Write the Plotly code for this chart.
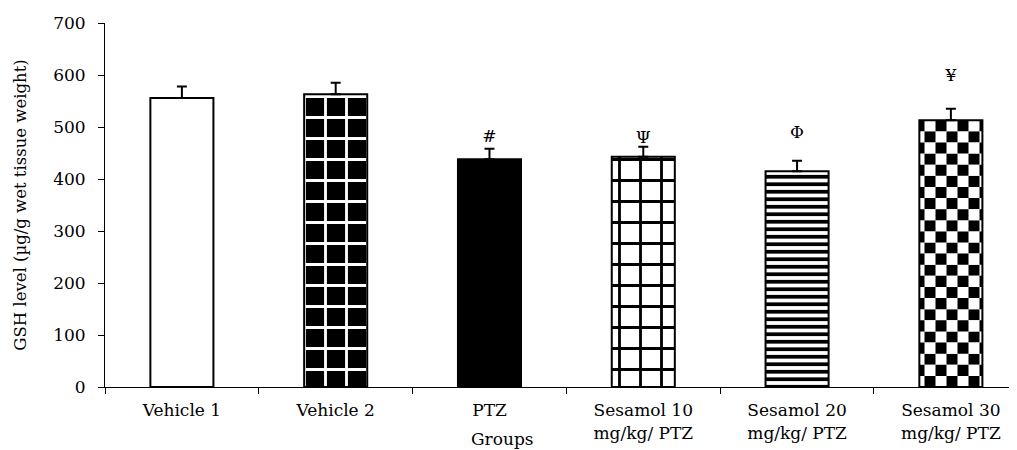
import plotly.graph_objects as go

# ---- data ----
groups = ["Vehicle 1", "Vehicle 2", "PTZ",
          "Sesamol 10<br>mg/kg/ PTZ", "Sesamol 20<br>mg/kg/ PTZ", "Sesamol 30<br>mg/kg/ PTZ"]
gsh = [556, 563, 438, 443, 415, 513]
gsh_err = [22, 22, 20, 19, 20, 22]
sig_labels = ["", "", "#", "Ψ", "Φ", "¥"]
sig_y = [None, None, 480, 478, 487, 596]
y_ticks = [0, 100, 200, 300, 400, 500, 600, 700]

# ---- styles ----
FONT = "DejaVu Serif"
BAR_W = 0.41
fill = ["white", "black", "black", "white", "white", "rgba(0,0,0,0)"]
pat_shape = ["", "+", "", "+", "-", ""]
pat_fg = ["black", "white", "black", "black", "black", "black"]
pat_size = [8, 21, 8, 21, 7.5, 8]
pat_sol = [0.3, 0.25, 0.3, 0.25, 0.5, 0.3]
CHECKER_GROUP = 5
CHECKER_ROWS = 24  # number of checker squares stacked in the last bar

fig = go.Figure()

# checkerboard fill for the last group: rows with alternating stripe phase
row_h = gsh[CHECKER_GROUP] / CHECKER_ROWS
for phase, (bg, fg) in enumerate([("white", "black"), ("black", "white")]):
    rows = [r for r in range(CHECKER_ROWS) if r % 2 == phase]
    fig.add_trace(go.Bar(
        x=[groups[CHECKER_GROUP]] * len(rows),
        y=[row_h] * len(rows),
        base=[r * row_h for r in rows],
        width=BAR_W,
        marker=dict(
            color=bg, line=dict(width=0),
            pattern=dict(shape="|", size=22, solidity=0.5,
                         bgcolor=bg, fgcolor=fg, fillmode="replace"),
        ),
        hoverinfo="skip", showlegend=False,
    ))

# main bars, one trace per group
for i, g in enumerate(groups):
    pattern = dict(shape=pat_shape[i], bgcolor=fill[i], fgcolor=pat_fg[i],
                   size=pat_size[i], solidity=pat_sol[i], fillmode="replace")
    fig.add_trace(go.Bar(
        x=[g], y=[gsh[i]], width=BAR_W,
        marker=dict(color=fill[i], line=dict(color="black", width=2),
                    pattern=pattern if pat_shape[i] else None),
        error_y=dict(type="data", array=[gsh_err[i]], arrayminus=[0],
                     symmetric=False, color="black", thickness=2, width=5),
        showlegend=False,
    ))

# significance symbols
fig.add_trace(go.Scatter(
    x=groups, y=sig_y, text=sig_labels, mode="text",
    textfont=dict(family=FONT, size=17, color="black"),
    hoverinfo="skip", showlegend=False,
))

fig.add_annotation(
    text="Groups", xref="paper", yref="paper", x=0.436, y=-0.11,
    xanchor="center", yanchor="top", showarrow=False,
    font=dict(family=FONT, size=17, color="black"),
)

fig.update_layout(
    width=1009, height=442,
    margin=dict(l=97, r=0, t=15, b=63),
    paper_bgcolor="white", plot_bgcolor="white",
    barmode="overlay",
    font=dict(family=FONT, size=17, color="black"),
    xaxis=dict(
        type="category", categoryorder="array", categoryarray=groups,
        range=[-0.5, 5.43], automargin=False,
        showline=True, linecolor="black", linewidth=1,
        ticks="outside", tickson="boundaries", ticklen=6,
        tickcolor="black", showgrid=False, ticklabelstandoff=8,
        tickfont=dict(family=FONT, size=17, color="black"),
    ),
    yaxis=dict(
        range=[0, 700], tickvals=y_ticks, automargin=False,
        showline=True, linecolor="black", linewidth=1,
        ticks="outside", ticklen=6, tickcolor="black",
        showgrid=False, zeroline=False, ticklabelstandoff=9,
        tickfont=dict(family=FONT, size=17, color="black"),
        title=dict(text="GSH level (µg/g wet tissue weight)",
                   font=dict(family=FONT, size=16.5, color="black"),
                   standoff=22),
    ),
)

fig.write_html("out.html")
